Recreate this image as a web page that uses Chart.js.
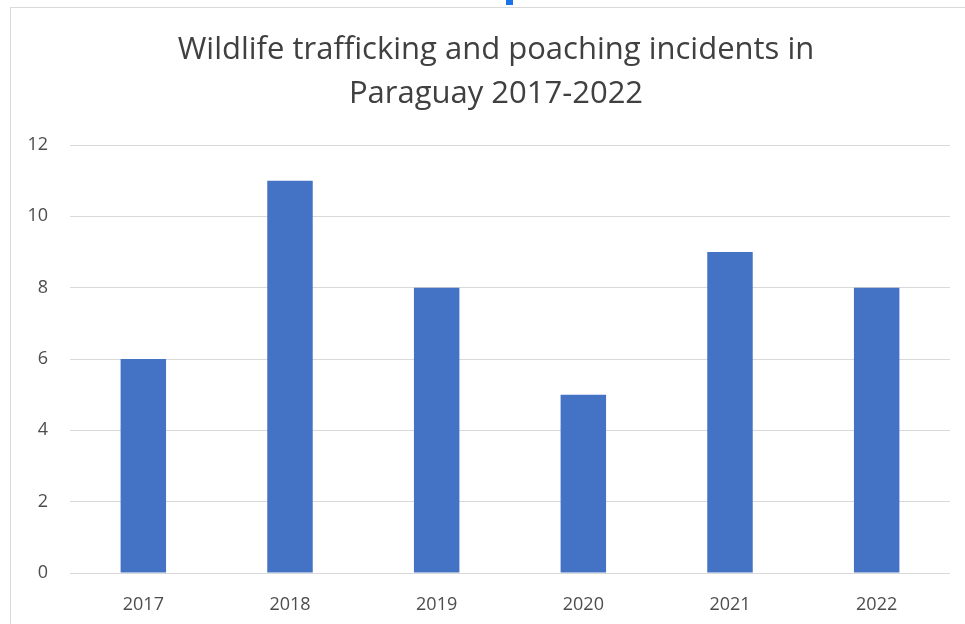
<!DOCTYPE html>
<html>
<head>
<meta charset="utf-8">
<script src="https://cdn.jsdelivr.net/npm/chart.js@4.4.0/dist/chart.umd.min.js"></script>
<style>
  html, body { margin: 0; padding: 0; background: #fff; }
  #wrap { position: relative; width: 965px; height: 624px; }
  #frame { position: absolute; left: 10px; top: 7px; width: 970px; height: 640px; border: 1px solid #d9d9d9; box-sizing: border-box; }
  #mark { position: absolute; left: 506px; top: 0; width: 7px; height: 5px; background: #1a73e8; }
  canvas { position: absolute; left: 0; top: 0; }
</style>
</head>
<body>
<div id="wrap">
  <div id="frame"></div>
  <div id="mark"></div>
  <canvas id="chart" width="965" height="624"></canvas>
</div>
<script>
var years = ['2017', '2018', '2019', '2020', '2021', '2022'];
var incidents = [6, 11, 8, 5, 9, 8];
var titleLines = ['Wildlife trafficking and poaching incidents in', 'Paraguay 2017-2022'];

// title drawn by hand so it can sit a bit right of the plot centre, like the original
var titlePlugin = {
    id: 'offsetTitle',
    afterDraw: function(chart) {
        var c = chart.ctx;
        c.save();
        c.fillStyle = '#404040';
        c.font = '31px "Open Sans"';
        c.textAlign = 'center';
        c.textBaseline = 'middle';
        for (var i = 0; i < titleLines.length; i++) {
            c.fillText(titleLines[i], 496, 50 + i * 44);
        }
        c.restore();
    }
};

var ctx = document.getElementById('chart');
var myChart = new Chart(ctx, {
    type: 'bar',
    data: {
        labels: years,
        datasets: [{
            label: 'Incidents',
            data: incidents,
            backgroundColor: '#4472C4',
            borderWidth: 0,
            barPercentage: 0.31,
            categoryPercentage: 1
        }]
    },
    plugins: [titlePlugin],
    options: {
        responsive: false,
        animation: false,
        layout: { padding: { left: 10, right: 15, top: 145, bottom: 0 } },
        plugins: {
            legend: { display: false },
            tooltip: { enabled: false },
            title: { display: false }
        },
        scales: {
            x: {
                grid: { display: false },
                border: { display: false },
                ticks: { color: '#4d4d4d', font: { family: 'Open Sans', size: 18 }, padding: 13 },
                afterFit: function(scale) { scale.height = 51; }
            },
            y: {
                min: 0,
                max: 12,
                ticks: { stepSize: 2, color: '#4d4d4d', font: { family: 'Open Sans', size: 18 }, padding: 22 },
                grid: { color: '#d9d9d9', drawTicks: false },
                border: { display: false },
                afterFit: function(scale) { scale.width = 60; }
            }
        }
    }
});
</script>
</body>
</html>
